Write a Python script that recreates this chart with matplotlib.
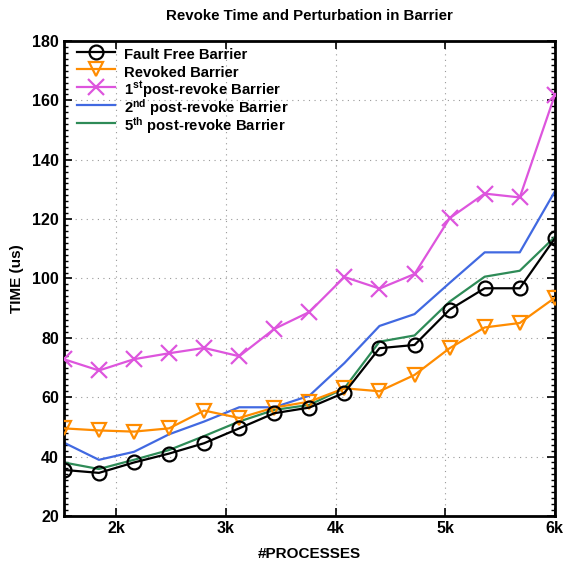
import numpy as np
import matplotlib.pyplot as plt
from matplotlib.ticker import MultipleLocator, FuncFormatter

plt.rcParams['font.family'] = ['Liberation Sans', 'DejaVu Sans']
plt.rcParams['font.weight'] = 'bold'
plt.rcParams['mathtext.fontset'] = 'custom'
plt.rcParams['mathtext.bf'] = 'Liberation Sans:bold'
plt.rcParams['mathtext.rm'] = 'Liberation Sans:bold'
plt.rcParams['mathtext.default'] = 'bf'

# 데이터
processes = [1520, 1840, 2160, 2480, 2800, 3120, 3440, 3760, 4080, 4400, 4720, 5040, 5360, 5680, 6000]
fault_free = [35.5, 34.5, 38, 41, 44.5, 49.5, 54.6, 56.5, 61.5, 76.5, 77.6, 89.5, 96.7, 96.7, 113.5]
revoked = [49.5, 48.8, 48.4, 49.5, 55.5, 53, 56.5, 58.5, 63, 62, 67.5, 76.5, 83.5, 85, 93.5]
post1 = [72.8, 69, 72.8, 74.8, 76.6, 73.8, 83, 88.7, 100.5, 96.6, 101.5, 120.3, 128.6, 127.3, 161.8]
post2 = [44.7, 38.9, 41.6, 47.5, 51.8, 56.6, 56.6, 60.5, 71.5, 84, 88, 98.5, 108.8, 108.8, 129.3]
post5 = [38, 35.8, 38.9, 42.2, 46.9, 51.8, 55.7, 57.4, 63, 78.7, 80.8, 92.2, 100.6, 102.6, 114]

fig = plt.figure(figsize=(5.65, 5.62), dpi=100)
ax = fig.add_axes([0.113, 0.082, 0.869, 0.845])

ax.plot(processes, fault_free, color='black', lw=1.6, marker='o', ms=10,
        mfc='none', mew=1.6, label='Fault Free Barrier', zorder=5)
ax.plot(processes, revoked, color='#ff8c00', lw=1.6, marker='v', ms=10,
        mfc='none', mew=1.6, label='Revoked Barrier', zorder=4)
ax.plot(processes, post1, color='#dd55dd', lw=1.6, marker='x', ms=11,
        mew=1.6, label=r'1$^{\mathbf{st}}$post-revoke Barrier', zorder=3)
ax.plot(processes, post2, color='#4169e1', lw=1.6,
        label=r'2$^{\mathbf{nd}}$ post-revoke Barrier', zorder=2)
ax.plot(processes, post5, color='#2e8b57', lw=1.6,
        label=r'5$^{\mathbf{th}}$ post-revoke Barrier', zorder=2)

ax.set_xlim(1520, 6000)
ax.set_ylim(20, 180)
ax.xaxis.set_major_locator(MultipleLocator(1000))
ax.xaxis.set_major_formatter(FuncFormatter(lambda v, p: f'{int(v/1000)}k'))
ax.yaxis.set_major_locator(MultipleLocator(20))
ax.yaxis.set_minor_locator(MultipleLocator(2))
ax.tick_params(axis='both', which='both', direction='in', top=True, right=True,
               labelsize=11.5)
ax.tick_params(axis='both', which='major', length=6, width=1.2)
ax.tick_params(axis='y', which='minor', length=3, width=1)
ax.grid(True, which='major', color='#999999', linestyle=(0, (1, 4)), lw=0.8)
for s in ax.spines.values():
    s.set_linewidth(2)

ax.set_xlabel('#PROCESSES', fontsize=11, fontweight='bold', labelpad=8)
ax.set_ylabel('TIME (us)', fontsize=11, fontweight='bold', labelpad=6)
ax.set_title('Revoke Time and Perturbation in Barrier', fontsize=10.8,
             fontweight='bold', pad=15)

leg = ax.legend(loc='upper left', frameon=False, handlelength=2.55,
                handleheight=1.75, labelspacing=-0.2, borderaxespad=0.2,
                borderpad=0.0, handletextpad=0.67, bbox_to_anchor=(0.02, 1.0),
                prop={'weight': 'bold', 'size': 10.7})

fig.savefig('out.png', dpi=100)
